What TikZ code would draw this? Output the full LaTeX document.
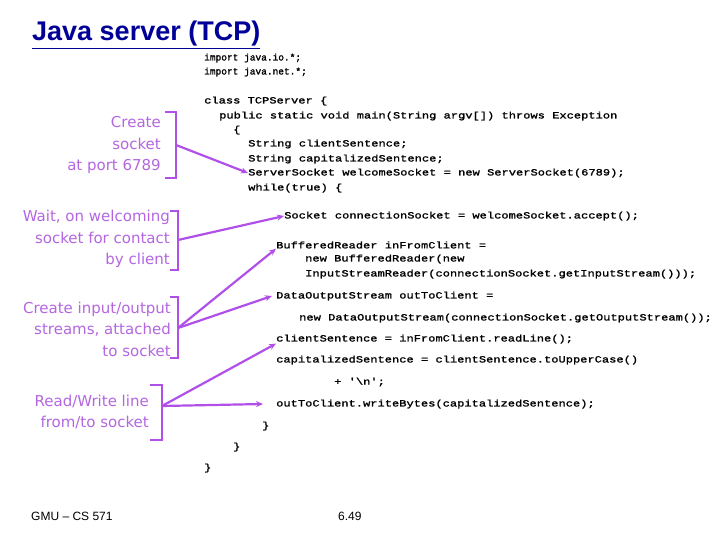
\documentclass[tikz,border=0pt]{standalone}
\usepackage{fontspec}
\usetikzlibrary{arrows.meta}
\setmainfont{Liberation Sans}
\newfontfamily\codef{Liberation Mono}[FakeStretch=1.27,FakeBold=1.5]
\newfontfamily\impf{Liberation Mono}[FakeBold=1.5]
\newfontfamily\labf{DejaVu Sans}
\definecolor{lab}{HTML}{B466E0}
\definecolor{brk}{HTML}{B050E8}
\definecolor{ttl}{HTML}{000099}
\begin{document}
\begin{tikzpicture}[x=1pt,y=-1pt,
  code/.style={anchor=west,inner sep=0pt,font=\codef\fontsize{9.5}{11}\selectfont},
  imp/.style={anchor=west,inner sep=0pt,font=\impf\fontsize{9.5}{11}\selectfont},
  lbl/.style={align=right,anchor=east,inner sep=0pt,text=lab,font=\labf\fontsize{15}{21.5}\selectfont},
  br/.style={brk,line width=2.2pt},
  ar/.style={brk,line width=2.2pt,-{Stealth[length=7pt,width=6pt]}}]
\useasboundingbox (0,0) rectangle (720,540);
\node[anchor=west,inner sep=0pt,text=ttl,font=\bfseries\fontsize{27}{30}\selectfont] (t) at (32,35) {\underline{Java server (TCP)}};
\node[imp] (i1) at (204,58) {import java.io.*;};
\node[imp] (i2) at (204,72) {import java.net.*;};
\node[code] (c1) at (204,101) {class TCPServer \{};
\node[code] (c2) at (219,116) {public static void main(String argv[]) throws Exception};
\node[code] (c3) at (233,130) {\{};
\node[code] (c4) at (248,144) {String clientSentence;};
\node[code] (c5) at (248,159) {String capitalizedSentence;};
\node[code] (c6) at (248,173) {ServerSocket welcomeSocket = new ServerSocket(6789);};
\node[code] (c7) at (248,188) {while(true) \{};
\node[code] (c8) at (284,216) {Socket connectionSocket = welcomeSocket.accept();};
\node[code] (c9) at (276,245) {BufferedReader inFromClient =};
\node[code] (c10) at (305,259) {new BufferedReader(new};
\node[code] (c11) at (305,274) {InputStreamReader(connectionSocket.getInputStream()));};
\node[code] (c12) at (276,296) {DataOutputStream  outToClient =};
\node[code] (c13) at (299,318) {new DataOutputStream(connectionSocket.getOutputStream());};
\node[code] (c14) at (276,339) {clientSentence = inFromClient.readLine();};
\node[code] (c15) at (276,360) {capitalizedSentence = clientSentence.toUpperCase()};
\node[code] (c16) at (334,382) {+ '\textbackslash n';};
\node[code] (c17) at (276,404) {outToClient.writeBytes(capitalizedSentence);};
\node[code] (c18) at (262,426) {\}};
\node[code] (c19) at (233,447) {\}};
\node[code] (c20) at (204,468) {\}};
\node[lbl] (l1) at (161,145) {Create\\socket\\at port 6789};
\node[lbl] (l2) at (170,239) {Wait, on welcoming\\socket for contact\\by client};
\node[lbl] (l3) at (171,329) {Create input/output\\streams, attached\\to socket};
\node[lbl] (l4) at (149,412) {Read/Write line\\from/to socket};
\draw[br] (165,112) -- (176,112) -- (176,178) -- (165,178);
\draw[br] (170,211) -- (178,211) -- (178,270) -- (170,270);
\draw[br] (170,297) -- (178,297) -- (178,358) -- (170,358);
\draw[br] (150,385) -- (162,385) -- (162,440) -- (150,440);
\coordinate (a1) at (176,145); \coordinate (a2) at (178,240);
\coordinate (a3) at (178,328); \coordinate (a4) at (162,406);
\draw[ar] (a1) -- (c6.west);
\draw[ar] (a2) -- (c8.west);
\draw[ar] (a3) -- (c9.south west);
\draw[ar] (a3) -- ([xshift=-4pt]c12.west);
\draw[ar] (a4) -- (c14.south west);
\draw[ar] (a4) -- ([xshift=-13pt]c17.west);
\node[anchor=west,inner sep=0pt,font=\fontsize{12}{14}\selectfont] (f1) at (31,516) {GMU -- CS 571};
\node[anchor=west,inner sep=0pt,font=\fontsize{12}{14}\selectfont] (f2) at (338,516) {6.49};
\end{tikzpicture}
\end{document}
